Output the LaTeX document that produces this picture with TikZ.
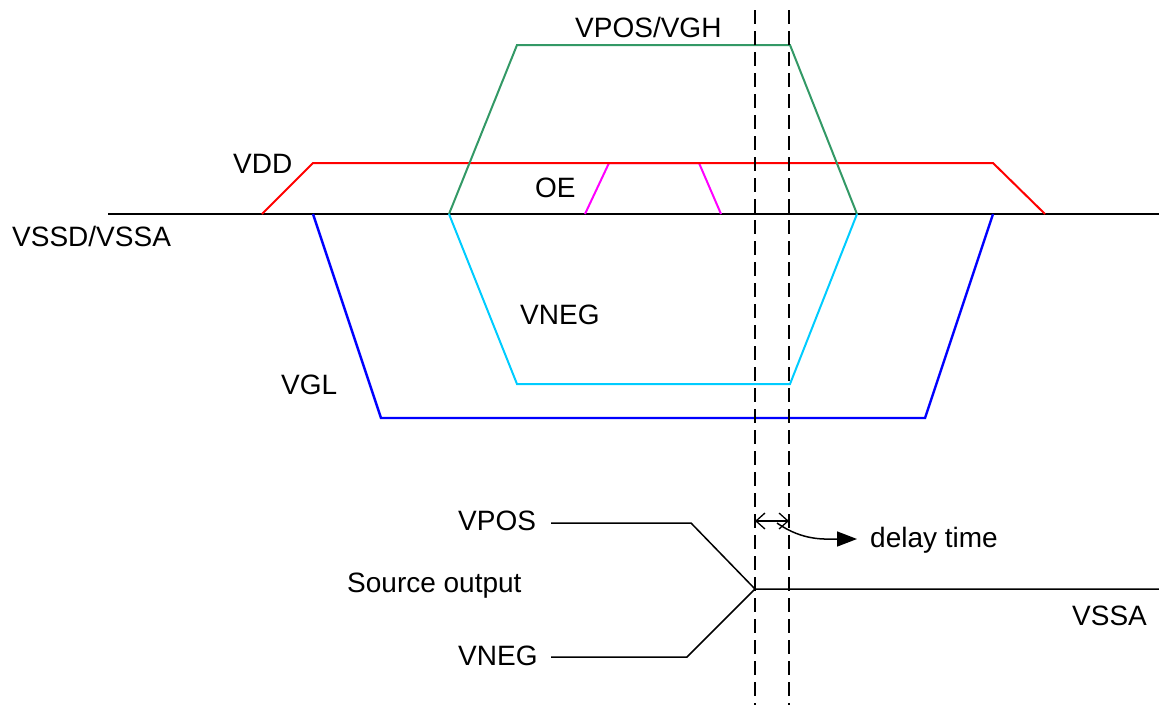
\documentclass[tikz,border=0pt]{standalone}
\usepackage{fontspec}
\setmainfont{Liberation Sans}
\usetikzlibrary{arrows.meta}
\definecolor{wgreen}{HTML}{339966}
\definecolor{wcyan}{HTML}{00CCFF}
\definecolor{wmag}{HTML}{FF00FF}
\definecolor{wred}{HTML}{FF0000}
\definecolor{wblue}{HTML}{0000FF}
\begin{document}
\begin{tikzpicture}[x=1pt,y=-1pt,
  lbl/.style={anchor=base west,inner sep=0pt,font=\fontsize{28}{32}\selectfont},
  wave/.style={line width=2pt,line join=miter},
  guide/.style={line width=2.8pt,dash pattern=on 14pt off 7pt},
  barb/.tip={Straight Barb[length=9pt,width=16pt]}]
\useasboundingbox (0,0) rectangle (1159,705);
% coordinates
\coordinate (b0) at (108,214);
\coordinate (b1) at (1159,214);
\coordinate (d1) at (262,214); \coordinate (d2) at (313,163);
\coordinate (d3) at (993,163); \coordinate (d4) at (1045,214);
\coordinate (g1) at (449,214); \coordinate (g2) at (517,45);
\coordinate (g3) at (790,45);  \coordinate (g4) at (857,214);
\coordinate (o1) at (585,214); \coordinate (o2) at (609,163);
\coordinate (o3) at (699,163); \coordinate (o4) at (721,214);
\coordinate (c1) at (449,214); \coordinate (c2) at (517,384);
\coordinate (c3) at (790,384); \coordinate (c4) at (857,214);
\coordinate (l1) at (313,214); \coordinate (l2) at (381,418);
\coordinate (l3) at (925,418); \coordinate (l4) at (993,214);
\coordinate (t1) at (755,10); \coordinate (t2) at (755,705);
\coordinate (u1) at (789,10); \coordinate (u2) at (789,705);
\coordinate (p1) at (551,523); \coordinate (p2) at (691,523);
\coordinate (n1) at (551,657); \coordinate (n2) at (687,657);
\coordinate (m) at (755,589); \coordinate (m2) at (1159,589);
\coordinate (dl) at (755,521); \coordinate (dr) at (789,521);
\coordinate (cs) at (777,523); \coordinate (ce) at (857,539);
% baseline
\draw[line width=2pt] (b0) -- (b1);
% waveforms
\draw[wave,wmag] (o1) -- (o2) -- (o3) -- (o4);
\draw[wave,wred] (d1) -- (d2) -- (d3) -- (d4);
\draw[wave,wgreen] (g1) -- (g2) -- (g3) -- (g4);
\draw[wave,wcyan] (c1) -- (c2) -- (c3) -- (c4);
\draw[wave,wblue,line width=2.4pt] (l1) -- (l2) -- (l3) -- (l4);
% guides
\draw[guide] (t1) -- (t2);
\draw[guide] (u1) -- (u2);
% source output
\draw[line width=1.5pt] (p1) -- (p2) -- (m) -- (m2);
\draw[line width=1.5pt] (n1) -- (n2) -- (m);
% delay
\draw[line width=1.3pt,barb-barb] (dl) -- (dr);
\draw[line width=1.5pt,-{Triangle[length=20pt,width=15pt]}] (cs) to[out=-35,in=180] (ce);
% labels
\node[lbl] (tvdd) at (233,173) {VDD};
\node[lbl] (tvss) at (12,246) {VSSD/VSSA};
\node[lbl] (tvgh) at (575,37) {VPOS/VGH};
\node[lbl] (toe) at (535,197) {OE};
\node[lbl] (tvneg) at (520,324) {VNEG};
\node[lbl] (tvgl) at (281,394) {VGL};
\node[lbl] (tvpos) at (458,530) {VPOS};
\node[lbl] (tsrc) at (347,592) {Source output};
\node[lbl] (tvneg2) at (458,665) {VNEG};
\node[lbl] (tdelay) at (870,547) {delay time};
\node[lbl] (tvssa) at (1072,625) {VSSA};
\end{tikzpicture}
\end{document}
